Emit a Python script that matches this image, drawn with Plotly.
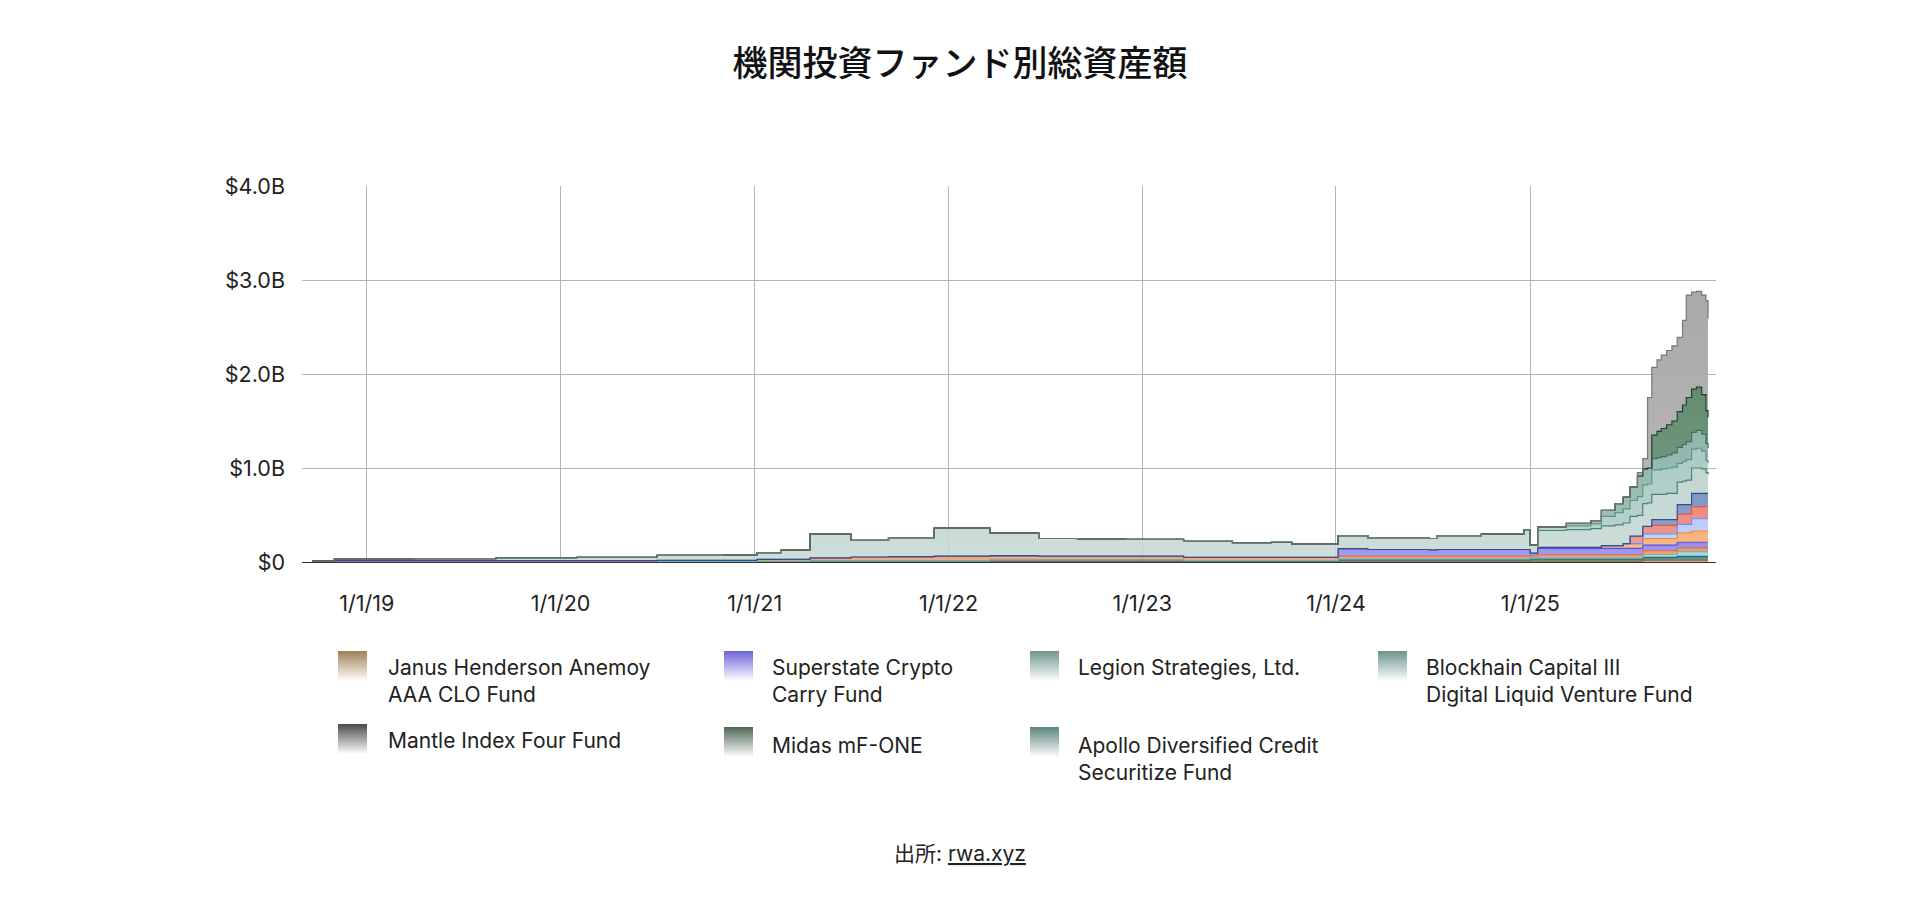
import base64
import plotly.graph_objects as go

# observation dates (step series, values in $B)
dates = [
    "2018-09-20", "2018-11-01", "2019-04-01", "2019-09-01", "2020-02-01",
    "2020-07-01", "2020-11-01", "2021-01-05", "2021-02-20", "2021-04-15",
    "2021-07-01", "2021-09-10", "2021-12-05", "2022-03-20", "2022-06-20",
    "2022-09-01", "2022-12-01", "2023-03-20", "2023-06-20", "2023-09-01",
    "2023-10-10", "2023-12-28", "2024-01-05", "2024-03-01", "2024-06-25",
    "2024-07-10", "2024-10-01", "2024-12-20", "2025-01-01", "2025-01-15",
    "2025-03-10", "2025-04-25", "2025-05-15", "2025-06-10", "2025-06-25",
    "2025-07-08", "2025-07-22", "2025-08-01", "2025-08-10", "2025-08-18",
    "2025-08-28", "2025-09-05", "2025-09-15", "2025-09-25", "2025-10-05",
    "2025-10-15", "2025-10-22", "2025-11-01", "2025-11-10", "2025-11-20",
    "2025-11-28", "2025-12-02",
]

janus = [0.003, 0.003, 0.003, 0.003, 0.003, 0.003, 0.003, 0.003, 0.003, 0.003,
         0.003, 0.003, 0.003, 0.003, 0.003, 0.003, 0.003, 0.003, 0.003, 0.003,
         0.003, 0.003, 0.008, 0.008, 0.008, 0.008, 0.008, 0.008, 0.010, 0.010,
         0.010, 0.010, 0.010, 0.010, 0.010, 0.010, 0.010, 0.020, 0.020, 0.020,
         0.020, 0.020, 0.020, 0.020, 0.020, 0.020, 0.020, 0.020, 0.020, 0.020,
         0.020, 0.020]
teal_dark = [0.002, 0.002, 0.002, 0.002, 0.002, 0.002, 0.002, 0.005, 0.005, 0.010,
             0.010, 0.010, 0.010, 0.020, 0.020, 0.020, 0.020, 0.012, 0.012, 0.012,
             0.012, 0.012, 0.015, 0.015, 0.015, 0.015, 0.015, 0.015, 0.020, 0.020,
             0.020, 0.020, 0.020, 0.020, 0.020, 0.020, 0.020, 0.030, 0.030, 0.030,
             0.030, 0.030, 0.030, 0.030, 0.040, 0.040, 0.040, 0.040, 0.040, 0.040,
             0.040, 0.040]
cyan = [0, 0, 0, 0, 0, 0, 0, 0, 0, 0,
        0, 0, 0, 0, 0, 0, 0, 0, 0, 0,
        0, 0, 0.010, 0.010, 0.010, 0.010, 0.010, 0.010, 0.015, 0.015,
        0.015, 0.015, 0.015, 0.015, 0.015, 0.015, 0.015, 0.030, 0.030, 0.030,
        0.030, 0.030, 0.030, 0.030, 0.050, 0.050, 0.050, 0.050, 0.050, 0.050,
        0.050, 0.050]
orange_early = [0.005, 0.010, 0.010, 0.010, 0.010, 0.012, 0.012, 0.020, 0.020, 0.030,
                0.040, 0.045, 0.050, 0.045, 0.040, 0.040, 0.040, 0.035, 0.035, 0.035,
                0.035, 0.035, 0.030, 0.030, 0.030, 0.030, 0.030, 0.030, 0.020, 0.030,
                0.030, 0.030, 0.030, 0.030, 0.030, 0.030, 0.030, 0.040, 0.040, 0.040,
                0.040, 0.040, 0.040, 0.040, 0.040, 0.040, 0.040, 0.040, 0.040, 0.040,
                0.040, 0.040]
superstate = [0, 0, 0, 0, 0, 0, 0, 0, 0, 0,
              0, 0, 0, 0, 0, 0, 0, 0, 0, 0,
              0, 0, 0.080, 0.070, 0.065, 0.070, 0.070, 0.070, 0.030, 0.070,
              0.070, 0.070, 0.070, 0.070, 0.070, 0.070, 0.070, 0.060, 0.060, 0.060,
              0.060, 0.060, 0.060, 0.060, 0.060, 0.060, 0.060, 0.060, 0.060, 0.060,
              0.060, 0.060]
orange = [0, 0, 0, 0, 0, 0, 0, 0, 0, 0,
          0, 0, 0, 0, 0, 0, 0, 0, 0, 0,
          0, 0, 0, 0, 0, 0, 0, 0, 0, 0.010,
          0.010, 0.010, 0.030, 0.030, 0.050, 0.050, 0.050, 0.070, 0.070, 0.070,
          0.070, 0.070, 0.070, 0.070, 0.100, 0.100, 0.100, 0.120, 0.120, 0.120,
          0.120, 0.120]
light_blue = [0, 0, 0, 0, 0, 0, 0, 0, 0, 0,
              0, 0, 0, 0, 0, 0, 0, 0, 0, 0,
              0, 0, 0, 0, 0, 0, 0, 0, 0, 0,
              0, 0, 0, 0, 0, 0, 0, 0.050, 0.050, 0.050,
              0.050, 0.050, 0.050, 0.050, 0.090, 0.090, 0.090, 0.130, 0.130, 0.130,
              0.130, 0.130]
red = [0, 0, 0, 0, 0, 0, 0, 0, 0, 0,
       0, 0, 0, 0, 0, 0, 0, 0, 0, 0,
       0, 0, 0, 0, 0, 0, 0, 0, 0, 0,
       0, 0, 0, 0, 0, 0.080, 0.080, 0.080, 0.080, 0.090,
       0.090, 0.090, 0.090, 0.090, 0.110, 0.110, 0.110, 0.130, 0.130, 0.130,
       0.130, 0.130]
navy = [0, 0, 0, 0, 0, 0, 0, 0, 0, 0,
        0, 0, 0, 0, 0, 0, 0, 0, 0, 0,
        0, 0, 0, 0, 0, 0, 0, 0, 0, 0,
        0, 0, 0, 0, 0, 0, 0, 0, 0, 0.060,
        0.060, 0.060, 0.060, 0.060, 0.100, 0.100, 0.100, 0.140, 0.140, 0.140,
        0.140, 0.140]
legion = [0.000, 0.015, 0.020, 0.030, 0.035, 0.053, 0.058, 0.072, 0.102, 0.257,
          0.177, 0.202, 0.297, 0.242, 0.187, 0.182, 0.177, 0.170, 0.155, 0.160,
          0.140, 0.140, 0.137, 0.127, 0.122, 0.147, 0.167, 0.212, 0.085, 0.180,
          0.190, 0.200, 0.210, 0.220, 0.220, 0.210, 0.220, 0.240, 0.250, 0.270,
          0.270, 0.270, 0.280, 0.280, 0.240, 0.250, 0.260, 0.270, 0.270, 0.260,
          0.220, 0.200]
apollo = [0, 0, 0, 0, 0, 0, 0, 0, 0, 0,
          0, 0, 0, 0, 0, 0, 0, 0, 0, 0,
          0, 0, 0, 0, 0, 0, 0, 0, 0, 0.035,
          0.040, 0.050, 0.100, 0.130, 0.150, 0.170, 0.200, 0.200, 0.200, 0.260,
          0.260, 0.270, 0.270, 0.280, 0.200, 0.210, 0.220, 0.200, 0.210, 0.190,
          0.130, 0.120]
blockhain = [0, 0, 0, 0, 0, 0, 0, 0, 0, 0,
             0, 0, 0, 0, 0, 0, 0, 0, 0, 0,
             0, 0, 0, 0, 0, 0, 0, 0, 0, 0,
             0.025, 0.035, 0.065, 0.095, 0.125, 0.145, 0.220, 0.170, 0.170, 0.120,
             0.130, 0.130, 0.140, 0.150, 0.170, 0.180, 0.190, 0.180, 0.190, 0.180,
             0.180, 0.160]
midas = [0, 0, 0, 0, 0, 0, 0, 0, 0, 0,
         0, 0, 0, 0, 0, 0, 0, 0, 0, 0,
         0, 0, 0, 0, 0, 0, 0, 0, 0, 0,
         0, 0, 0, 0, 0, 0, 0, 0, 0, 0.250,
         0.280, 0.300, 0.320, 0.340, 0.380, 0.420, 0.470, 0.460, 0.460, 0.420,
         0.350, 0.330]
mantle = [0, 0, 0, 0, 0, 0, 0, 0, 0, 0,
          0, 0, 0, 0, 0, 0, 0, 0, 0, 0,
          0, 0, 0, 0, 0, 0, 0, 0, 0, 0,
          0, 0, 0, 0, 0, 0, 0.035, 0.110, 0.750, 0.720,
          0.760, 0.780, 0.790, 0.800, 0.790, 0.900, 1.090, 1.030, 1.020, 1.060,
          1.170, 1.050]

# stacking order bottom -> top: (name, values, line colour, fill colour)
layers = [
    ("Janus Henderson Anemoy AAA CLO Fund", janus, "#8a6a44", "#b89b74"),
    ("teal", teal_dark, "#2d6466", "#4a8a8a"),
    ("cyan", cyan, "#6fb3b8", "#a3d5d8"),
    ("orange early", orange_early, "#d9733f", "#eb9a6e"),
    ("Superstate Crypto Carry Fund", superstate, "#5b4fe0", "#948cf0"),
    ("orange", orange, "#ef8a3a", "#f7b27a"),
    ("light blue", light_blue, "#6f8ff0", "#bccdfa"),
    ("red", red, "#dd5a4e", "#ec8a80"),
    ("navy", navy, "#2f4f95", "#8196c4"),
    ("Legion Strategies, Ltd.", legion, "#4f807a", "#c2d6d1"),
    ("Apollo Diversified Credit Securitize Fund", apollo, "#5e938a", "#a9cbc3"),
    ("Blockhain Capital III Digital Liquid Venture Fund", blockhain, "#3f6f63", "#8fb6ab"),
    ("Midas mF-ONE", midas, "#1f3f2b", "#628c70"),
    ("Mantle Index Four Fund", mantle, "#777777", "#a9a9a9"),
]

legend_names = [
    "Janus Henderson Anemoy<br>AAA CLO Fund",
    "Superstate Crypto<br>Carry Fund",
    "Legion Strategies, Ltd.",
    "Blockhain Capital III<br>Digital Liquid Venture Fund",
    "Mantle Index Four Fund",
    "Midas mF-ONE",
    "Apollo Diversified Credit<br>Securitize Fund",
]
legend_colors = ["#a08056", "#6c62d6", "#6f958e", "#6d948c", "#4a4a4a", "#4f6757", "#5d857d"]

x_ticks = ["2019-01-01", "2020-01-01", "2021-01-01", "2022-01-01",
           "2023-01-01", "2024-01-01", "2025-01-01"]
y_ticks = [0, 1, 2, 3, 4]
y_labels = ["$0", "$1.0B", "$2.0B", "$3.0B", "$4.0B"]

FONT = "Inter, 'Noto Sans CJK JP', sans-serif"
W, H = 1920, 911
L, R, T, B = 302, 1716, 186, 562


def rgba(hex_color, a):
    h = hex_color.lstrip("#")
    return f"rgba({int(h[0:2], 16)},{int(h[2:4], 16)},{int(h[4:6], 16)},{a})"


def px_x(px):
    return (px - L) / (R - L)


def px_y(py):
    return (B - py) / (B - T)


def swatch(color):
    svg = ('<svg xmlns="http://www.w3.org/2000/svg" width="30" height="30">'
           '<defs><linearGradient id="g" x1="0" y1="0" x2="0" y2="1">'
           f'<stop offset="0" stop-color="{color}"/>'
           '<stop offset="1" stop-color="#ffffff"/></linearGradient></defs>'
           '<rect width="30" height="30" fill="url(#g)"/></svg>')
    return "data:image/svg+xml;base64," + base64.b64encode(svg.encode()).decode()


fig = go.Figure()
for name, vals, lc, fc in layers:
    fig.add_trace(go.Scatter(
        x=dates, y=vals, name=name, mode="lines", stackgroup="all",
        line=dict(color=lc, width=1.2, shape="hv"),
        fillgradient=dict(type="vertical",
                          colorscale=[[0, rgba(fc, 0.8)], [1, rgba(fc, 1)]]),
        showlegend=False,
    ))

# legend drawn by hand: gradient squares + text
swatch_px = [(338, 651), (724, 651), (1030, 651), (1378, 651),
             (338, 724), (724, 727), (1030, 727)]
text_px = [(386, 653), (770, 653), (1076, 653), (1424, 653),
           (386, 726), (770, 731), (1076, 731)]
images = []
annotations = []
for name, color, (sx, sy), (tx, ty) in zip(legend_names, legend_colors, swatch_px, text_px):
    images.append(dict(source=swatch(color), xref="paper", yref="paper",
                       x=px_x(sx), y=px_y(sy), sizex=29 / (R - L), sizey=30 / (B - T),
                       xanchor="left", yanchor="top", sizing="stretch", layer="above"))
    annotations.append(dict(text=name, xref="paper", yref="paper",
                            x=px_x(tx), y=px_y(ty), xanchor="left", yanchor="top",
                            align="left", showarrow=False,
                            font=dict(size=21, color="#222222", family=FONT)))

annotations.append(dict(
    text="出所: <span style='text-decoration:underline'>rwa.xyz</span>",
    xref="paper", yref="paper", x=px_x(960), y=px_y(853),
    xanchor="center", yanchor="middle", showarrow=False,
    font=dict(size=21, color="#222222", family=FONT)))

fig.update_layout(
    width=W, height=H,
    margin=dict(l=L, r=W - R, t=T, b=H - B),
    paper_bgcolor="white", plot_bgcolor="white",
    font=dict(family=FONT, size=21, color="#222222"),
    title=dict(text="機関投資ファンド別総資産額", x=0.5, xref="container",
               y=1 - 64 / H, yref="container", xanchor="center", yanchor="middle",
               font=dict(size=35, color="#111111", family="'Noto Sans CJK JP', sans-serif",
                         weight=500)),
    showlegend=False,
    images=images,
    annotations=annotations,
    xaxis=dict(type="date", range=["2018-09-01", "2025-12-17"],
               tickvals=x_ticks, tickformat="%-m/%-d/%y",
               showgrid=True, gridcolor="#b4b4b4", gridwidth=1,
               showline=True, linecolor="#333333", linewidth=1,
               ticks="", ticklabelstandoff=22, zeroline=False,
               tickfont=dict(size=21.5, color="#222222")),
    yaxis=dict(range=[0, 4], tickvals=y_ticks, ticktext=y_labels,
               showgrid=True, gridcolor="#b4b4b4", gridwidth=1,
               zeroline=False, ticks="", ticklabelstandoff=16,
               tickfont=dict(size=21.5, color="#222222")),
)

# page body has an 8px default margin; drop it so the figure sits at 0,0
fig.write_html("out.html", config={"displayModeBar": False},
               post_script="document.body.style.margin='0';")
